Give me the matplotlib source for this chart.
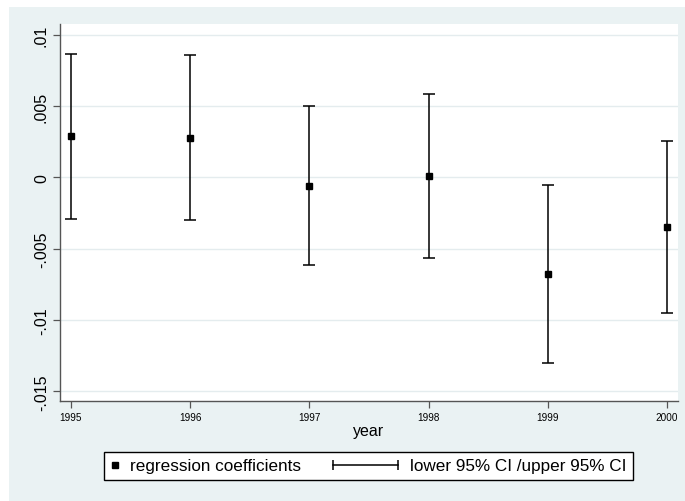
import numpy as np
import matplotlib.pyplot as plt
from matplotlib.lines import Line2D
from matplotlib.patches import Rectangle
from matplotlib.legend_handler import HandlerBase

plt.rcParams['font.family'] = ['Liberation Sans', 'DejaVu Sans']

# data
years = [1995, 1996, 1997, 1998, 1999, 2000]
coef = [0.00289, 0.00276, -0.00059, 0.00011, -0.00678, -0.00346]
ci_low = [-0.00291, -0.00302, -0.00613, -0.00564, -0.01300, -0.00947]
ci_high = [0.00868, 0.00857, 0.00500, 0.00584, -0.00052, 0.00254]
yticks = [0.01, 0.005, 0, -0.005, -0.01, -0.015]
ytick_labels = ['.01', '.005', '0', '-.005', '-.01', '-.015']

bg = '#EAF2F3'

class CapLineHandler(HandlerBase):
    # horizontal line with caps, reaching left past the handle box
    def create_artists(self, legend, orig_handle, xdescent, ydescent,
                       width, height, fontsize, trans):
        y = height / 2 - ydescent
        x1 = width - xdescent
        x0 = x1 - 47
        line = Line2D([x0, x1], [y, y], color='black', lw=1.1,
                      marker='|', markersize=7, markeredgewidth=1.1,
                      transform=trans)
        return [line]

fig = plt.figure(figsize=(6.85, 5.02), dpi=100, facecolor='white')
fig.patches.append(Rectangle((9 / 685, 0 / 502), 676 / 685, 494 / 502,
                             transform=fig.transFigure, facecolor=bg,
                             edgecolor='none', zorder=-10))

ax = fig.add_axes([60 / 685, 100 / 502, 618 / 685, 377 / 502])
ax.set_facecolor('white')

yerr = [np.array(coef) - np.array(ci_low), np.array(ci_high) - np.array(coef)]
ax.errorbar(years, coef, yerr=yerr, fmt='none', ecolor='black',
            elinewidth=1.1, capsize=4, capthick=1.1, zorder=3)
ax.plot(years, coef, 's', color='black', markersize=4.5, zorder=4)

ax.set_xlim(1994.908, 2000.092)
ax.set_ylim(-0.01567, 0.01075)
ax.set_xticks(years)
ax.set_xticklabels([str(y) for y in years], fontsize=7.2)
ax.set_yticks(yticks)
ax.set_yticklabels(ytick_labels, rotation=90, va='center', fontsize=11.5)
ax.grid(axis='y', color='#E4ECEE', lw=1)
ax.set_axisbelow(True)
ax.tick_params(axis='y', length=5, color='#555555', width=0.9, pad=3)
ax.tick_params(axis='x', length=5, color='#555555', width=0.9, pad=3)
for s in ['top', 'right']:
    ax.spines[s].set_visible(False)
for s in ['left', 'bottom']:
    ax.spines[s].set_color('#555555')
    ax.spines[s].set_linewidth(1)
ax.set_xlabel('year', fontsize=11.5, labelpad=1)

h1 = Line2D([], [], marker='s', color='black', linestyle='none', markersize=4.5)
h2 = Line2D([], [], color='black')
leg = fig.legend([h1, h2], ['regression coefficients', 'lower 95% CI /upper 95% CI'],
                 handler_map={h2: CapLineHandler()},
                 loc='center', bbox_to_anchor=(368.5 / 685, 35 / 502),
                 ncol=2, fontsize=12.3, handlelength=0.4, handletextpad=0.68,
                 columnspacing=5.3, borderpad=0.4, borderaxespad=0,
                 fancybox=False,
                 edgecolor='black', framealpha=1, facecolor='white')
leg.get_frame().set_linewidth(1)

fig.savefig('out.png', dpi=100, facecolor='white')
